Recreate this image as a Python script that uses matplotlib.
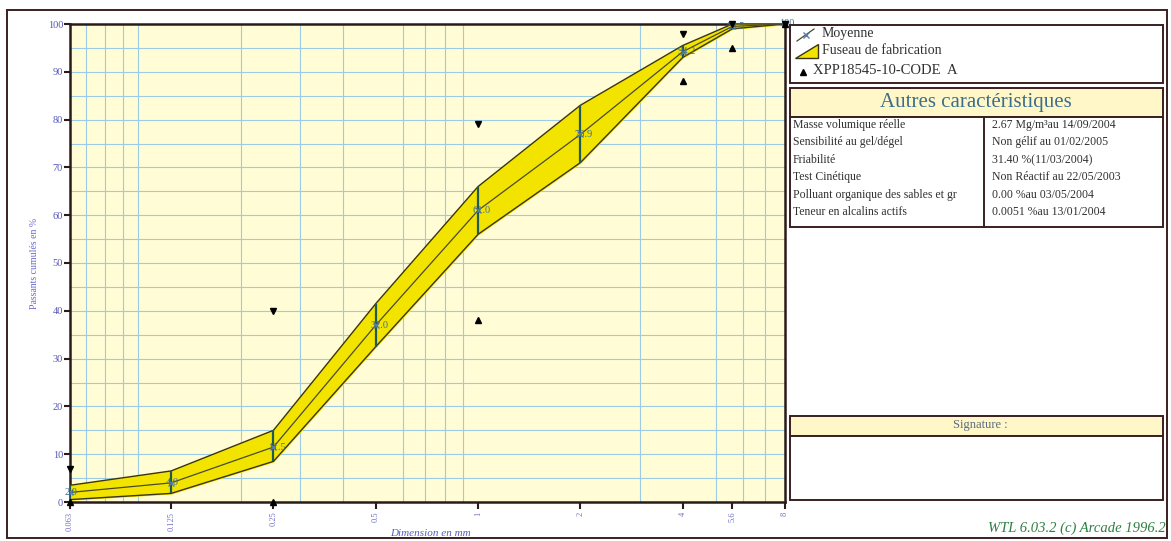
import numpy as np
import matplotlib
matplotlib.use("Agg")
import matplotlib.pyplot as plt
from matplotlib.ticker import FixedLocator, LogLocator, MultipleLocator, NullFormatter
from matplotlib.patches import Rectangle, Polygon

plt.rcParams["font.family"] = ["Liberation Serif", "DejaVu Serif"]

# Sieve sizes (mm) and cumulative passing (%)
sieves = [0.063, 0.125, 0.25, 0.5, 1, 2, 4, 5.6, 8]
sieve_labels = ["0.063", "0.125", "0.25", "0.5", "1", "2", "4", "5.6", "8"]
mean_pass = [2.0, 4.0, 11.5, 37.0, 61.0, 76.9, 94.2, 99.5, 100.0]
band_upper = [3.5, 6.5, 15.0, 41.5, 66.0, 83.0, 95.5, 100.0, 100.0]
band_lower = [0.5, 1.8, 8.5, 32.5, 56.0, 71.0, 93.0, 99.0, 100.0]
# XPP18545-10 CODE A limits (nan = no limit)
spec_max = [7, np.nan, 40, np.nan, 79, np.nan, 98, 100, 100]
spec_min = [0, np.nan, 0, np.nan, 38, np.nan, 88, 95, 100]

# right-hand table
carac_names = ["Masse volumique réelle", "Sensibilité au gel/dégel", "Friabilité",
               "Test Cinétique", "Polluant organique des sables et gr",
               "Teneur en alcalins actifs"]
carac_values = ["2.67 Mg/m³au 14/09/2004", "Non gélif au 01/02/2005",
                "31.40 %(11/03/2004)", "Non Réactif au 22/05/2003",
                "0.00 %au 03/05/2004", "0.0051 %au 13/01/2004"]

W, H = 1171, 541
fig = plt.figure(figsize=(W / 100, H / 100), dpi=100)
fig.patch.set_facecolor("white")

ax = fig.add_axes([70 / W, 1 - 502 / H, 715 / W, 478 / H])
ax.set_facecolor("#fffcd6")
ax.set_xscale("log")
ax.set_xlim(0.063, 8)
ax.set_ylim(0, 100)

# fuseau (band)
xs = np.array(sieves)
ax.fill_between(xs, band_lower, band_upper, color="#f3e400", zorder=3)
ax.plot(xs, band_upper, color="#3b3514", lw=1.0, zorder=4)
ax.plot(xs, band_lower, color="#3b3514", lw=1.0, zorder=4)
ax.vlines(xs, band_lower, band_upper, color="#1f5a55", lw=1.6, zorder=5)

# mean curve
ax.plot(xs, mean_pass, color="#4a4a2a", lw=0.9, zorder=6)
ax.plot(xs, mean_pass, ls="none", marker="x", ms=5, mew=1.0, color="#5a7fa8", zorder=7)
for x, v in zip(sieves, mean_pass):
    lab = "100" if v >= 100 else f"{v:.1f}"
    ax.annotate(lab, (x, v), xytext=(-4, 0), textcoords="offset points",
                fontsize=7.5, color="#3f6f8f", va="center", ha="left", zorder=8,
                annotation_clip=False)

# spec limits
ax.plot(xs, spec_max, ls="none", marker="v", ms=5, color="black", zorder=8, clip_on=False)
ax.plot(xs, spec_min, ls="none", marker="^", ms=5, color="black", zorder=8, clip_on=False)

# ticks & grid
ax.xaxis.set_major_locator(FixedLocator(sieves))
ax.set_xticklabels(sieve_labels, rotation=90, fontsize=6, color="#6f6fc8")
ax.xaxis.set_minor_locator(LogLocator(base=10, subs=np.arange(1, 10), numticks=20))
ax.xaxis.set_minor_formatter(NullFormatter())
ax.yaxis.set_major_locator(MultipleLocator(10))
ax.yaxis.set_minor_locator(MultipleLocator(5))
for lab in ax.get_yticklabels():
    lab.set_color("#5555b5")
ax.tick_params(axis="y", which="major", labelsize=7.5, length=4, width=1.5, color="#2a1a1a", pad=1)
ax.tick_params(axis="x", which="major", length=5, width=1.5, color="#2a1a1a", pad=2)
ax.tick_params(which="minor", length=0)
ax.grid(which="minor", axis="x", color="#9ccbe6", lw=0.8, zorder=1)
ax.grid(which="both", axis="y", color="#9ccbe6", lw=0.8, zorder=1)
ax.set_axisbelow(True)
for s in ax.spines.values():
    s.set_color("#2a1a1a")
    s.set_linewidth(1.8)

ax.set_ylabel("Passants cumulés en %", fontsize=7, color="#6a6ad0", labelpad=6)

# overlay in pixel coords for frames and side panel
ov = fig.add_axes([0, 0, 1, 1], zorder=-1)
ov.set_xlim(0, W)
ov.set_ylim(H, 0)
ov.axis("off")
ov.patch.set_alpha(0)

frame = "#3a1f1f"
ov.add_patch(Rectangle((7, 10), 1160, 528, fill=False, ec=frame, lw=1.4))

ov2 = fig.add_axes([0, 0, 1, 1], zorder=5)
ov2.set_xlim(0, W)
ov2.set_ylim(H, 0)
ov2.axis("off")
ov2.patch.set_alpha(0)

ov2.text(430, 533, "Dimension en mm", fontsize=8, style="italic", color="#4f5fc0",
         ha="center", va="center")

# legend box
ov2.add_patch(Rectangle((790, 25), 373, 58, fc="white", ec=frame, lw=1.4))
ov2.plot([797, 814], [41, 29], color="#4a4a2a", lw=0.9)
ov2.plot([806], [35], marker="x", ms=4, color="#5a7fa8")
ov2.text(822, 33, "Moyenne", fontsize=10, va="center", color="#303030")
ov2.add_patch(Polygon([(795, 58), (818, 58), (818, 44)], closed=True, fc="#f3e400", ec="#3b3514", lw=1))
ov2.text(822, 51, "Fuseau de fabrication", fontsize=10, va="center", color="#303030")
ov2.plot([803], [72], marker="^", ms=4, color="black")
ov2.text(813, 71, "XPP18545-10-CODE  A", fontsize=10.5, va="center", color="#303030")

# Autres caractéristiques
ov2.add_patch(Rectangle((790, 88), 373, 29, fc="#fff7c8", ec=frame, lw=1.4))
ov2.add_patch(Rectangle((790, 117), 373, 110, fc="white", ec=frame, lw=1.4))
ov2.plot([984, 984], [117, 227], color=frame, lw=1.4)
ov2.text(976, 103, "Autres caractéristiques", fontsize=15, ha="center", va="center", color="#3a6e8e")
for i, (n, v) in enumerate(zip(carac_names, carac_values)):
    yy = 125 + i * 17.4
    ov2.text(793, yy, n, fontsize=8.5, va="center", color="#303030")
    ov2.text(992, yy, v, fontsize=8.5, va="center", color="#303030")

# Signature
ov2.add_patch(Rectangle((790, 416), 373, 20, fc="#fff7c8", ec=frame, lw=1.4))
ov2.add_patch(Rectangle((790, 436), 373, 64, fc="white", ec=frame, lw=1.4))
ov2.text(980, 425, "Signature :", fontsize=9, ha="center", va="center", color="#5a6a80")

ov2.text(988, 528, "WTL 6.03.2 (c) Arcade 1996.2", fontsize=10.5, style="italic",
         va="center", color="#2e8040")

fig.savefig("out.png", dpi=100)
